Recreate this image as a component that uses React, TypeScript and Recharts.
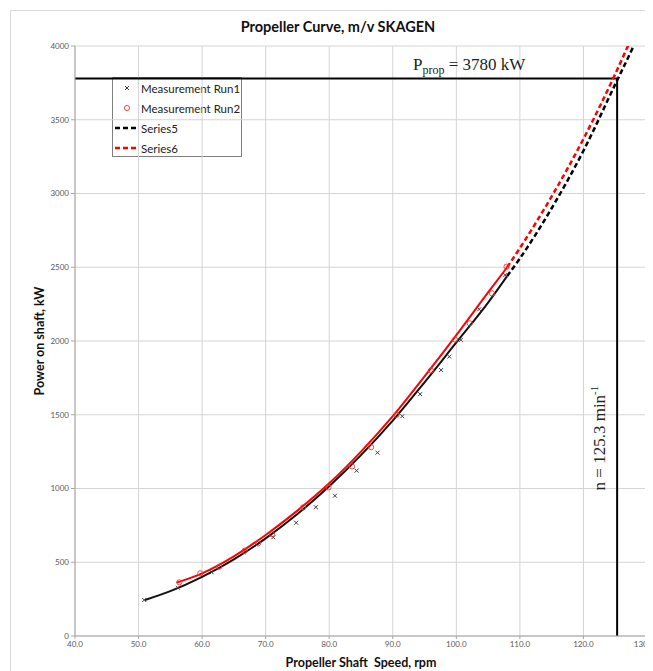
import React from 'react'
import { ComposedChart, Line, Scatter, XAxis, YAxis, CartesianGrid, ReferenceLine } from 'recharts'

// measured points, run 1 (rpm / kW)
const run1Speed = [50.9, 56.2, 61.5, 66.5, 71.2, 74.8, 77.9, 80.9, 84.3, 87.6, 91.5, 94.3, 97.6, 98.9, 100.7, 103.6, 107.7]
const run1Power = [244, 327, 432, 567, 669, 768, 873, 951, 1121, 1243, 1490, 1640, 1803, 1894, 2007, 2215, 2447]

// measured points, run 2
const run2Speed = [56.4, 59.7, 62.7, 66.7, 68.8, 71.0, 75.9, 79.9, 83.6, 86.6, 90.6, 96.0, 99.8, 102.1, 105.6, 107.9]
const run2Power = [364, 425, 470, 578, 628, 690, 872, 1008, 1150, 1280, 1500, 1800, 2010, 2120, 2323, 2504]

// fitted curve through run 1, and its extension (Series5)
const fit1Speed = [51, 55, 60, 65, 70, 75, 80, 85, 90, 95, 100, 105, 108]
const fit1Power = [244, 304, 401, 520, 662, 827, 1015, 1226, 1460, 1720, 1990, 2260, 2440]
const series5Speed = [108, 110, 115, 120, 125, 128, 130]
const series5Power = [2440, 2560, 2900, 3290, 3740, 4010, 4200]

// fitted curve through run 2, and its extension (Series6)
const fit2Speed = [56, 60, 65, 70, 75, 80, 85, 90, 95, 100, 105, 108]
const fit2Power = [362, 425, 540, 685, 850, 1035, 1250, 1490, 1760, 2040, 2330, 2500]
const series6Speed = [108, 110, 115, 120, 125, 127, 130]
const series6Power = [2500, 2630, 2980, 3370, 3810, 4000, 4290]

// operating point
const propPower = 3780
const propSpeed = 125.3

const speedTicks = [40, 50, 60, 70, 80, 90, 100, 110, 120, 130]
const powerTicks = [0, 500, 1000, 1500, 2000, 2500, 3000, 3500, 4000]

const toPoints = (xs: number[], ys: number[]) => xs.map((rpm, i) => ({ rpm, kw: ys[i] }))

const run1 = toPoints(run1Speed, run1Power)
const run2 = toPoints(run2Speed, run2Power)
const fit1 = toPoints(fit1Speed, fit1Power)
const fit2 = toPoints(fit2Speed, fit2Power)
const series5 = toPoints(series5Speed, series5Power)
const series6 = toPoints(series6Speed, series6Power)

const sans = 'Lato, "Open Sans", sans-serif'
const serif = '"Liberation Serif", "DejaVu Serif", serif'

const CrossMark = (props: any) => {
  const { cx, cy } = props
  if (cx == null || cy == null) return null
  const s = 2
  return (
    <path
      d={`M${cx - s},${cy - s}L${cx + s},${cy + s}M${cx - s},${cy + s}L${cx + s},${cy - s}`}
      stroke="#404040"
      strokeWidth={1}
    />
  )
}

const RingMark = (props: any) => {
  const { cx, cy } = props
  if (cx == null || cy == null) return null
  return <circle cx={cx} cy={cy} r={2.6} fill="none" stroke="#ff3030" strokeWidth={0.9} />
}

const powerLabel = (props: any) => {
  const vb = props.viewBox
  return (
    <text x={vb.x + 338} y={vb.y - 8} fontFamily={serif} fontSize={17} fill="#222">
      P<tspan dy={4} fontSize={12}>prop</tspan>
      <tspan dy={-4}> = {propPower} kW</tspan>
    </text>
  )
}

const speedLabel = (props: any) => {
  const vb = props.viewBox
  const x = vb.x - 12
  const y = vb.y + vb.height * 0.645
  return (
    <text x={x} y={y} transform={`rotate(-90, ${x}, ${y})`} textAnchor="middle" fontFamily={serif} fontSize={17} fill="#222">
      n = {propSpeed} min<tspan dy={-7} fontSize={11}>-1</tspan>
    </text>
  )
}

const yTitle = (props: any) => {
  const vb = props.viewBox
  const x = 36
  const y = vb.y + vb.height / 2
  return (
    <text x={x} y={y} transform={`rotate(-90, ${x}, ${y})`} textAnchor="middle" fontFamily={sans} fontWeight={700} fontSize={12.5} fill="#111">
      Power on shaft, kW
    </text>
  )
}

const xTitle = (props: any) => {
  const vb = props.viewBox
  return (
    <text x={vb.x + vb.width / 2} y={659} textAnchor="middle" fontFamily={sans} fontWeight={700} fontSize={12.5} fill="#111">
      {'Propeller Shaft\u00a0 Speed, rpm'}
    </text>
  )
}

const legendRows = [
  { name: 'Measurement Run1', kind: 'cross' },
  { name: 'Measurement Run2', kind: 'ring' },
  { name: 'Series5', kind: 'dash', color: '#000' },
  { name: 'Series6', kind: 'dash', color: '#ff0000' },
]

function LegendBox() {
  return (
    <div
      style={{
        position: 'absolute',
        left: 104,
        top: 69,
        width: 128,
        height: 78,
        border: '1px solid #7f7f7f',
        background: '#fff',
        fontFamily: sans,
        fontSize: 11.5,
        color: '#222',
      }}
    >
      {legendRows.map((r) => (
        <div key={r.name} style={{ display: 'flex', alignItems: 'center', height: 20, whiteSpace: 'nowrap' }}>
          <svg width={28} height={20} style={{ flex: 'none' }}>
            {r.kind === 'cross' && <CrossMark cx={14} cy={10} />}
            {r.kind === 'ring' && <RingMark cx={14} cy={10} />}
            {r.kind === 'dash' && <line x1={2} y1={10} x2={26} y2={10} stroke={r.color} strokeWidth={2.5} strokeDasharray="5 3" />}
          </svg>
          <span>{r.name}</span>
        </div>
      ))}
    </div>
  )
}

export default function App() {
  return (
    <div style={{ position: 'relative', width: 645, height: 663 }}>
      <div style={{ position: 'absolute', left: 2, top: 2, right: 0, bottom: 0, borderLeft: '1px solid #d9d9d9', borderTop: '1px solid #d9d9d9' }} />
      <div
        style={{
          position: 'absolute',
          left: 0,
          width: 660,
          top: 10,
          textAlign: 'center',
          fontFamily: sans,
          fontWeight: 700,
          fontSize: 14.5,
          color: '#111',
        }}
      >
        Propeller Curve, m/v SKAGEN
      </div>
      <LegendBox />
      <ComposedChart width={645} height={663} margin={{ top: 38, right: 6, left: 0, bottom: 0 }}>
        <CartesianGrid stroke="#d4d4d4" strokeWidth={1} />
        <XAxis
          type="number"
          dataKey="rpm"
          domain={[40, 130]}
          ticks={speedTicks}
          allowDataOverflow
          height={35}
          tickFormatter={(v: number) => v.toFixed(1)}
          tick={{ fontSize: 8, fill: '#595959', fontFamily: sans }}
          tickSize={3}
          stroke="#a6a6a6"
          label={xTitle}
        />
        <YAxis
          type="number"
          domain={[0, 4000]}
          ticks={powerTicks}
          allowDataOverflow
          width={67}
          tick={{ fontSize: 8, fill: '#595959', fontFamily: sans }}
          tickSize={4}
          stroke="#a6a6a6"
          label={yTitle}
        />
        <ReferenceLine
          segment={[{ x: 40, y: propPower }, { x: propSpeed, y: propPower }]}
          stroke="#000"
          strokeWidth={2}
          label={powerLabel}
        />
        <ReferenceLine
          segment={[{ x: propSpeed, y: 0 }, { x: propSpeed, y: propPower }]}
          stroke="#000"
          strokeWidth={2}
          label={speedLabel}
        />
        <Line data={fit1} dataKey="kw" type="monotone" stroke="#111" strokeWidth={2} dot={false} isAnimationActive={false} />
        <Line data={series5} dataKey="kw" type="monotone" stroke="#000" strokeWidth={2.5} strokeDasharray="5 3" dot={false} isAnimationActive={false} />
        <Line data={fit2} dataKey="kw" type="monotone" stroke="#ff0000" strokeWidth={2} dot={false} isAnimationActive={false} />
        <Line data={series6} dataKey="kw" type="monotone" stroke="#ff0000" strokeWidth={2.5} strokeDasharray="5 3" dot={false} isAnimationActive={false} />
        <Scatter data={run1} dataKey="kw" shape={CrossMark} isAnimationActive={false} />
        <Scatter data={run2} dataKey="kw" shape={RingMark} isAnimationActive={false} />
      </ComposedChart>
    </div>
  )
}
